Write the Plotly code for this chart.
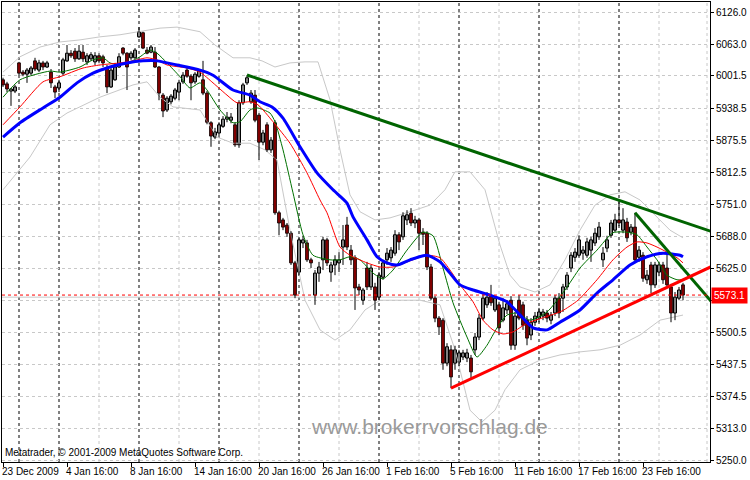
import plotly.graph_objects as go

# ---------------- data (H4 bars) ----------------
opens = [5994,5986,5972,5972,6027,6009,6005,6007,6031,6013,6027,6019,6009,5980,5978,6007,6031,6046,6050,6035,
         6048,6029,6035,6029,6041,6039,6017,5980,5994,6019,6056,6046,6037,6037,6078,6086,6052,6048,6048,6019,
         5964,5935,5951,5958,5970,5990,6013,6001,5990,6001,5994,5968,5910,5882,5890,5903,5917,5915,5906,5867,
         5949,5988,5951,5964,5925,5872,5906,5857,5910,5734,5720,5710,5694,5636,5618,5675,5675,5642,5573,5616,
         5642,5681,5618,5632,5636,5667,5710,5661,5646,5589,5563,5626,5589,5589,5569,5608,5642,5646,5655,5691,
         5687,5720,5733,5714,5720,5696,5694,5628,5567,5528,5524,5440,5466,5440,5442,5452,5450,5450,5466,5491,
         5528,5554,5571,5544,5554,5524,5544,5563,5475,5563,5554,5524,5495,5520,5528,5532,5538,5524,5538,5567,
         5567,5589,5626,5647,5651,5655,5651,5661,5675,5687,5642,5665,5690,5700,5720,5700,5716,5696,5706,5647,
         5651,5603,5632,5593,5618,5632,5626,5589,5538,5567,5593]
highs = [5998,5990,5978,5984,6029,6013,6017,6021,6037,6033,6031,6031,6015,5984,5994,6037,6062,6052,6056,6062,
         6062,6046,6048,6048,6046,6043,6023,6019,6027,6046,6058,6048,6050,6056,6097,6088,6058,6062,6058,6021,
         5968,5962,5966,5978,5994,6009,6017,6005,6009,6015,6031,5972,5913,5900,5911,5923,5931,5929,5911,5954,
         5988,6003,5974,5974,5929,5896,5911,5882,5915,5738,5724,5714,5698,5640,5685,5689,5681,5646,5622,5638,
         5687,5685,5638,5651,5657,5710,5726,5671,5651,5595,5587,5638,5632,5597,5618,5642,5665,5667,5700,5696,
         5735,5739,5743,5728,5724,5704,5698,5634,5571,5532,5528,5479,5475,5474,5466,5466,5468,5456,5499,5536,
         5575,5579,5593,5571,5560,5567,5563,5571,5540,5573,5560,5532,5528,5540,5548,5546,5544,5540,5573,5577,
         5595,5618,5657,5665,5690,5669,5685,5687,5704,5716,5667,5689,5720,5732,5755,5743,5724,5712,5734,5669,
         5657,5622,5638,5638,5638,5638,5655,5595,5579,5589,5597]
lows = [5980,5970,5943,5968,6003,6001,5988,6003,6011,6009,6013,6017,5978,5958,5970,6003,6029,6037,6029,6033,
        6029,6023,6031,6023,6027,6019,5968,5978,5992,6017,6042,5974,6033,6035,6076,6054,6044,6046,6017,5954,
        5921,5931,5946,5954,5954,5986,5998,5954,5986,5998,5964,5907,5863,5878,5886,5900,5911,5909,5863,5861,
        5945,5984,5947,5911,5837,5866,5853,5851,5730,5690,5700,5687,5632,5567,5612,5665,5638,5626,5554,5599,
        5622,5630,5599,5612,5618,5632,5661,5632,5544,5573,5554,5583,5583,5544,5563,5603,5632,5638,5650,5661,
        5681,5710,5708,5704,5661,5671,5622,5563,5520,5495,5427,5434,5391,5427,5434,5446,5442,5411,5456,5485,
        5524,5548,5552,5540,5495,5520,5536,5466,5466,5524,5505,5475,5485,5513,5520,5524,5520,5516,5532,5528,
        5540,5583,5618,5638,5646,5642,5646,5638,5669,5681,5628,5657,5685,5696,5708,5694,5677,5690,5636,5638,
        5599,5595,5577,5587,5610,5595,5587,5520,5524,5563,5563]
closes = [5984,5976,5976,5980,6007,6005,6013,6017,6015,6027,6019,6027,5988,5970,5988,6033,6046,6041,6035,6050,
          6035,6041,6043,6041,6031,6027,5980,6013,6019,6039,6046,6019,6046,6052,6088,6056,6046,6058,6019,5968,
          5933,5958,5962,5974,5988,6003,6001,5988,6005,6011,5968,5911,5884,5892,5906,5917,5921,5921,5867,5949,
          5984,5998,5968,5915,5872,5890,5857,5876,5734,5714,5706,5694,5636,5573,5681,5681,5642,5636,5616,5628,
          5681,5636,5632,5642,5642,5681,5667,5642,5587,5583,5583,5589,5626,5563,5612,5636,5655,5661,5691,5677,
          5728,5730,5714,5720,5694,5692,5628,5567,5528,5511,5440,5472,5413,5466,5460,5460,5460,5423,5491,5528,
          5567,5569,5558,5567,5509,5548,5556,5475,5532,5528,5514,5489,5520,5532,5540,5540,5528,5534,5567,5538,
          5589,5612,5651,5657,5681,5661,5677,5681,5694,5706,5655,5681,5714,5720,5714,5720,5685,5706,5642,5661,
          5606,5612,5593,5632,5632,5603,5593,5538,5569,5583,5573.1]

# indicator lines: (bar position, price) vertices
ma_fast_x = [0,4.25,11.75,14.25,19.25,22.5,25,26.75,29.25,31.75,34.25,36.75,38.5,41,44.25,46.75,49.25,51,54.25,57.5,
             59.25,61.75,63.5,66.75,68,70,72.5,75,77.5,81.75,84.25,86.75,89.25,92.5,95,97.5,101,105,107.5,110,
             112.5,116,118.5,121,123.5,126,128.5,131.75,136,140.5,144.25,148.5,152.5,156,158.5,161,163.5,166,168.5,170]
ma_fast_y = [5960,5994,6011,6009,6019,6033,6037,6027,6023,6029,6039,6052,6046,6027,6000,5978,5988,5974,5935,5910,
             5912,5935,5939,5929,5912,5857,5773,5691,5651,5642,5642,5648,5642,5616,5605,5622,5661,5696,5689,5626,
             5558,5491,5452,5475,5509,5534,5538,5524,5540,5583,5626,5661,5695,5696,5691,5667,5642,5612,5603,5603]
ma_mid_x = [0,4.25,10,14.25,20,24.25,29.25,32.5,36,38.5,41,46,49.25,52.5,56,58.5,61.75,63.75,67.5,71.75,
            76,79.25,81,84.25,86.75,91,94.25,97.5,101.75,106,109.25,111.75,114.25,117.5,120,122.5,125,127.5,131,135.5,
            139.75,143.75,148.5,152.5,156,158.5,161,163.5,166,168.5,170]
ma_mid_y = [5906,5941,5990,6000,6017,6023,6027,6031,6037,6033,6023,6017,6009,5988,5964,5949,5951,5945,5912,5870,
            5812,5759,5734,5667,5651,5636,5628,5628,5640,5651,5646,5622,5593,5560,5524,5505,5497,5501,5518,5530,
            5542,5563,5603,5642,5667,5677,5675,5667,5657,5646,5636]
ma_slow_x = [0,4.25,10,14.25,18.5,22.5,26.75,31,35,38.5,43.5,49.25,52.5,57.5,61.75,64.25,67.25,70,74.25,78.5,
             82.5,86,87.5,91,93.5,96,98.5,101.75,106,109.25,111.75,114.25,117.5,121.75,126,129.25,132.5,136,139.25,144.25,
             148.5,152.5,156.75,161,165,169.25,170]
ma_slow_y = [5882,5910,5939,5960,5988,6007,6019,6027,6031,6031,6023,6013,6003,5974,5964,5951,5941,5919,5863,5812,
             5779,5753,5726,5681,5648,5636,5632,5642,5651,5638,5616,5593,5583,5573,5560,5534,5509,5505,5520,5544,
             5577,5603,5632,5648,5655,5651,5648]
bb_up_x = [0,4.25,9.25,14.25,19.25,24.25,29.25,34.25,39.25,43.5,49.25,53,57.5,61.75,64.75,68,71.75,75.5,78.75,81.75,
           84.25,86.75,89.25,93,96.75,101.75,106.75,110.5,113,116.75,120.5,124.25,126.75,129.25,133,136.75,140.5,144.25,148,151.75,
           155.5,159.25,163,166.75,170]
bb_up_y = [6009,6039,6058,6068,6072,6078,6082,6088,6095,6097,6088,6062,6037,6037,6031,6019,6027,6029,6029,5955,
           5857,5769,5736,5720,5724,5736,5749,5779,5814,5814,5779,5671,5612,5589,5579,5593,5642,5700,5749,5769,
           5775,5759,5730,5700,5685]
bb_lo_x = [0,3,6.75,11.75,16,24.25,32.5,36,39.25,42.5,49.25,53.5,57.5,61.75,65.5,68.5,71.75,75.5,79.25,83,
           86.75,90.5,94.25,104.25,109.25,113,116.75,119.75,123,125.5,129.25,134.25,139.25,144.25,149.25,154.25,159.25,164.25,170]
bb_lo_y = [5779,5808,5843,5906,5929,5960,5984,5990,5960,5941,5935,5882,5870,5870,5857,5837,5700,5563,5505,5485,
           5505,5544,5563,5563,5554,5466,5348,5325,5348,5388,5427,5446,5456,5462,5466,5475,5495,5524,5534]

# trend lines: two anchor points each (bar position, price)
tl_long_x, tl_long_y = [61, 178], [6003.4, 5695.0]
tl_steep_x, tl_steep_y = [158, 178], [5734.0, 5552.0]
tl_up_x, tl_up_y = [112, 178], [5391.0, 5632.0]

last_price = 5573.1

# the 5562.0 label is hidden under the last-price box in the reference
y_tick_vals = [6126.0, 6063.0, 6001.5, 5938.5, 5875.5, 5812.5, 5751.0, 5688.0, 5625.0,
               5562.0, 5500.5, 5437.5, 5374.5, 5313.0, 5250.0]
y_tick_text = ["6126.0","6063.0","6001.5","5938.5","5875.5","5812.5","5751.0","5688.0","5625.0",
               "","5500.5","5437.5","5374.5","5313.0","5250.0"]
x_tick_pos = [0,16,32,48,64,80,96,112,128,144,160]
x_tick_text = ["23 Dec 2009","4 Jan 16:00","8 Jan 16:00","14 Jan 16:00","20 Jan 16:00","26 Jan 16:00",
               "1 Feb 16:00","5 Feb 16:00","11 Feb 16:00","17 Feb 16:00","23 Feb 16:00"]
week_separators = [4,14,34,54,74,94,114,134,154]
v_grid = [24,44,64,84,104,124,144,164,176]

# ---------------- figure ----------------
n = len(closes)
idx = list(range(n))
FONT = "Liberation Sans"

fig = go.Figure()

LGRAY = "#c8c8c8"
fig.add_trace(go.Scatter(x=bb_up_x, y=bb_up_y, mode="lines", line=dict(color=LGRAY, width=1), hoverinfo="skip"))
fig.add_trace(go.Scatter(x=bb_lo_x, y=bb_lo_y, mode="lines", line=dict(color=LGRAY, width=1), hoverinfo="skip"))

# wicks
wx, wy = [], []
for i in idx:
    wx += [i, i, None]
    wy += [lows[i], highs[i], None]
fig.add_trace(go.Scatter(x=wx, y=wy, mode="lines", line=dict(color="black", width=1), hoverinfo="skip"))

# bodies
up_x = [i for i in idx if closes[i] >= opens[i]]
dn_x = [i for i in idx if closes[i] < opens[i]]
fig.add_trace(go.Bar(x=up_x, y=[max(closes[i] - opens[i], 0.8) for i in up_x], base=[opens[i] for i in up_x],
                     width=0.75, marker=dict(color="white", line=dict(color="black", width=1))))
fig.add_trace(go.Bar(x=dn_x, y=[opens[i] - closes[i] for i in dn_x], base=[closes[i] for i in dn_x],
                     width=0.75, marker=dict(color="#ff0000", line=dict(color="black", width=0.8))))

# moving averages
fig.add_trace(go.Scatter(x=ma_fast_x, y=ma_fast_y, mode="lines", line=dict(color="#007000", width=1, shape="spline", smoothing=0.6)))
fig.add_trace(go.Scatter(x=ma_mid_x, y=ma_mid_y, mode="lines", line=dict(color="#ff0000", width=1, shape="spline", smoothing=0.6)))
fig.add_trace(go.Scatter(x=ma_slow_x, y=ma_slow_y, mode="lines", line=dict(color="#0000ff", width=3, shape="spline", smoothing=0.6)))

# trend lines
fig.add_trace(go.Scatter(x=tl_long_x, y=tl_long_y, mode="lines", line=dict(color="#006400", width=3)))
fig.add_trace(go.Scatter(x=tl_steep_x, y=tl_steep_y, mode="lines", line=dict(color="#006400", width=3)))
fig.add_trace(go.Scatter(x=tl_up_x, y=tl_up_y, mode="lines", line=dict(color="#ff0000", width=3)))

shapes = []
for g in v_grid:
    shapes.append(dict(type="line", xref="x", yref="paper", x0=g, x1=g, y0=0, y1=1,
                       line=dict(color=LGRAY, width=1, dash="3px,3px"), layer="below"))
for s in week_separators:
    shapes.append(dict(type="line", xref="x", yref="paper", x0=s, x1=s, y0=0, y1=1,
                       line=dict(color="black", width=1, dash="3px,3px"), layer="below"))
shapes.append(dict(type="line", xref="paper", yref="y", x0=0, x1=1, y0=5569, y1=5569,
                   line=dict(color=LGRAY, width=1), layer="below"))
shapes.append(dict(type="line", xref="paper", yref="y", x0=0, x1=1, y0=last_price, y1=last_price,
                   line=dict(color="#ff0000", width=1, dash="3px,3px"), layer="above"))

annotations = []
for p, t in zip(x_tick_pos, x_tick_text):
    annotations.append(dict(x=p, xref="x", y=0, yref="paper", yanchor="top", xanchor="left",
                            text=t, showarrow=False, xshift=-3, yshift=-2,
                            font=dict(family=FONT, size=10, color="black")))
annotations.append(dict(x=0, xref="paper", y=0.022, yref="paper", xanchor="left", yanchor="middle",
                        text="Metatrader, © 2001-2009 MetaQuotes Software Corp.", showarrow=False, xshift=1, yshift=-1,
                        font=dict(family=FONT, size=10, color="black")))
annotations.append(dict(x=0.6045, xref="paper", y=0.076, yref="paper", xanchor="center", yanchor="middle",
                        text="www.brokerrvorschlag.de", showarrow=False, yshift=1,
                        font=dict(family="Liberation Sans", size=21, color="#9a9a9a")))
annotations.append(dict(x=1, xref="paper", y=last_price, yref="y", xanchor="left", yanchor="middle",
                        text=str(last_price), showarrow=False, xshift=1, bgcolor="#ff0000", borderpad=2,
                        font=dict(family=FONT, size=10, color="white")))

fig.update_layout(
    width=750, height=480, margin=dict(l=2, r=40, t=2, b=18),
    paper_bgcolor="white", plot_bgcolor="white", showlegend=False, barmode="overlay",
    shapes=shapes, annotations=annotations,
    xaxis=dict(range=[-0.25, 176.75], tickvals=x_tick_pos, ticks="outside", ticklen=4, tickcolor="black",
               showticklabels=False, showgrid=False, zeroline=False, showline=True, linecolor="black",
               linewidth=1, mirror=True, fixedrange=True),
    yaxis=dict(range=[5246.7, 6146.1], side="right", tickvals=y_tick_vals,
               ticktext=y_tick_text, ticks="outside", ticklen=3, tickcolor="black",
               tickfont=dict(family=FONT, size=10, color="black"),
               showgrid=True, gridcolor=LGRAY, griddash="3px,3px", gridwidth=1, zeroline=False,
               showline=True, linecolor="black", linewidth=1, mirror=True, fixedrange=True, automargin=False),
)

fig.write_html("out.html", config={"displayModeBar": False, "staticPlot": True},
               post_script="document.body.style.margin='0px'; document.body.style.overflow='hidden';")
